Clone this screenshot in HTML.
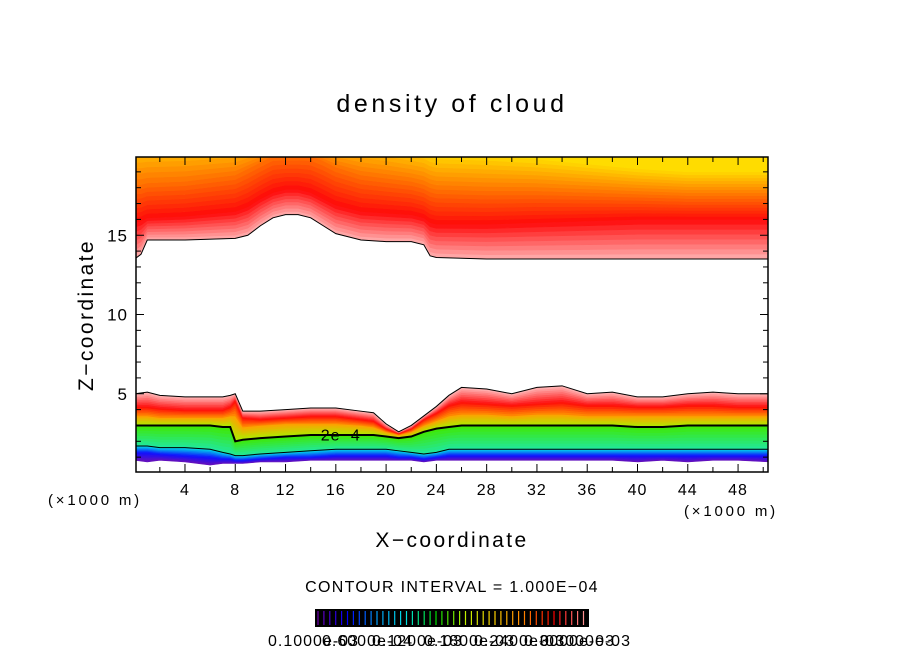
<!DOCTYPE html>
<html><head><meta charset="utf-8"><style>
body{margin:0;background:#fff;}
svg text{font-family:"Liberation Sans",sans-serif;fill:#000;}
</style></head><body>
<svg id="c" width="904" height="654" xmlns="http://www.w3.org/2000/svg">
<rect width="904" height="654" fill="#fff"/>
<text x="452" y="112" text-anchor="middle" font-size="25" letter-spacing="3.6">density of cloud</text>
<defs><clipPath id="pc"><rect x="136" y="157" width="632" height="315"/></clipPath></defs>
<g id="plot" clip-path="url(#pc)"></g>
<g id="axes"></g>
<text x="452" y="547" text-anchor="middle" font-size="21" letter-spacing="2.4">X−coordinate</text>
<text transform="translate(93,315) rotate(-90)" text-anchor="middle" font-size="21" letter-spacing="2.4">Z−coordinate</text>
<text x="48" y="505" font-size="15" letter-spacing="2.8">(×1000 m)</text>
<text x="684" y="516" font-size="15" letter-spacing="2.8">(×1000 m)</text>
<text x="452" y="592" text-anchor="middle" font-size="16" letter-spacing="1.3">CONTOUR INTERVAL = 1.000E−04</text>
<rect x="315" y="609" width="274" height="18" fill="#000"/>
<g id="cbar"></g>
<g font-size="16" letter-spacing="1">
<text x="268" y="646">0.1000e-03</text>
<text x="322" y="646">0.6000e-04</text>
<text x="372" y="646">0.1200e-03</text>
<text x="424" y="646">0.1800e-03</text>
<text x="474" y="646">0.2400e-03</text>
<text x="524" y="646">0.3000e-03</text>
<text x="540" y="646">0.3000e-03</text>
</g>
</svg>
<script>
const xs=[0,1,2,4,6,7,7.6,8,8.6,10,12,14,16,18,19,20,21,22,23,24,25,26,28,30,32,34,36,38,40,42,44,46,48,50.5];
const bEdge=[5.0,5.1,4.9,4.8,4.8,4.8,4.9,5.0,3.9,3.9,4.0,4.1,4.1,3.9,3.8,3.1,2.6,3.0,3.6,4.2,4.9,5.4,5.3,5.0,5.4,5.5,5.0,5.1,4.8,4.8,5.0,5.1,5.0,5.0];
const bRed=[4.2,4.2,4.1,4.0,4.0,4.0,4.2,4.6,3.5,3.4,3.5,3.6,3.6,3.4,3.3,2.8,2.5,2.8,3.4,3.8,4.3,4.5,4.4,4.3,4.4,4.5,4.3,4.3,4.2,4.2,4.3,4.3,4.2,4.2];
const bOrange=[3.6,3.6,3.5,3.5,3.5,3.5,3.6,3.6,2.9,3.0,3.1,3.1,3.1,3.0,2.9,2.6,2.4,2.6,3.0,3.3,3.6,3.7,3.7,3.6,3.7,3.7,3.6,3.6,3.6,3.6,3.6,3.6,3.6,3.6];
const bYellow=[3.0,3.0,3.0,3.0,3.0,2.9,2.9,2.0,2.1,2.2,2.3,2.4,2.4,2.4,2.4,2.3,2.2,2.3,2.6,2.8,2.9,3.0,3.0,3.0,3.0,3.0,3.0,3.0,2.9,2.9,3.0,3.0,3.0,3.0];
const bCyan=[1.7,1.7,1.6,1.6,1.5,1.3,1.2,1.1,1.1,1.2,1.3,1.4,1.5,1.5,1.5,1.5,1.4,1.3,1.2,1.3,1.5,1.5,1.5,1.5,1.5,1.5,1.5,1.5,1.5,1.5,1.5,1.5,1.5,1.5];
const bBlue=[1.3,1.3,1.2,1.1,1.0,0.9,0.9,0.8,0.8,0.9,1.0,1.0,1.1,1.1,1.1,1.1,1.0,1.0,0.9,1.0,1.1,1.1,1.1,1.1,1.1,1.1,1.1,1.1,1.1,1.1,1.1,1.1,1.1,1.1];
const bBase=[0.8,0.7,0.8,0.7,0.5,0.6,0.6,0.6,0.6,0.7,0.7,0.8,0.8,0.8,0.8,0.8,0.8,0.8,0.7,0.8,0.8,0.8,0.8,0.8,0.8,0.8,0.8,0.8,0.7,0.8,0.7,0.8,0.8,0.7];
const xsT=[0,0.5,1,4,8,9,10,11,12,13,14,15,16,18,20,22,23,23.5,24,28,32,36,40,44,48,50.5];
const tEdge=[13.5,13.8,14.7,14.7,14.8,15.0,15.6,16.1,16.3,16.3,16.1,15.6,15.1,14.7,14.6,14.6,14.4,13.7,13.6,13.5,13.5,13.5,13.5,13.5,13.5,13.5];
const tRed=[15.8,15.9,16.1,16.2,16.5,16.8,17.3,17.7,17.9,17.9,17.7,17.3,16.9,16.5,16.4,16.3,16.1,15.8,15.7,15.7,15.8,15.9,16.0,16.0,16.0,16.0];
const tOrange=[18.2,18.2,18.3,18.4,18.8,19.2,19.6,20,20,20,20,19.7,19.3,18.8,18.6,18.4,18.2,18.0,17.9,17.8,17.8,17.7,17.6,17.5,17.5,17.5];
const tYellow=[21,21,21,21,21,21,21,21,21,21,21,21,21,21,20.8,20.5,20.4,20.2,20.1,20.0,19.8,19.5,19.2,19.0,19.0,19.0];
const xTicks=[4,8,12,16,20,24,28,32,36,40,44,48];
const zTicks=[5,10,15];
const cbColors=['#7000b0','#0000ff','#00a0ff','#00e0e0','#00e000','#c0f000','#ffd000','#ff8000','#ff0000','#ff9090'];

const NS='http://www.w3.org/2000/svg';
const px=x=>134.7+x*12.57, pz=z=>473-z*15.85;
const plot=document.getElementById('plot'), axes=document.getElementById('axes');
function hex(c){return [1,3,5].map(i=>parseInt(c.substr(i,2),16));}
function mix(a,b,t){const A=hex(a),B=hex(b);return 'rgb('+A.map((v,i)=>Math.round(v+(B[i]-v)*t)).join(',')+')';}
function band(X,lo,hi,c1,c2,n){
  for(let k=0;k<n;k++){
    const t0=k/n,t1=(k+1)/n;
    const up=X.map((x,i)=>[px(x),pz(lo[i]+(hi[i]-lo[i])*t1)]);
    const dn=X.map((x,i)=>[px(x),pz(lo[i]+(hi[i]-lo[i])*t0)]).reverse();
    const p=document.createElementNS(NS,'polygon');
    p.setAttribute('points',up.concat(dn).map(q=>q.join(',')).join(' '));
    p.setAttribute('fill',mix(c1,c2,(t0+t1)/2));
    p.setAttribute('stroke',mix(c1,c2,(t0+t1)/2));p.setAttribute('stroke-width','0.6');
    
    
    plot.appendChild(p);
  }
}
function line(X,Z,w,name){
  const p=document.createElementNS(NS,'polyline');
  p.setAttribute('points',X.map((x,i)=>px(x)+','+pz(Z[i])).join(' '));
  p.setAttribute('fill','none');p.setAttribute('stroke','#000');p.setAttribute('stroke-width',w);
  
  
  plot.appendChild(p);
}
band(xs,bBase,bBlue,'#6a10b8','#1010ff',5);
band(xs,bBlue,bCyan,'#1010ff','#00d8e8',6);
band(xs,bCyan,bYellow,'#20e8a0','#40e800',8);
band(xs,bYellow,bOrange,'#a8f000','#ffa000',6);
band(xs,bOrange,bRed,'#ff9000','#ff0a0a',6);
band(xs,bRed,bEdge,'#ff1010','#ffb8b8',8);
line(xs,bEdge,1,'contour-line-outer');
line(xs,bYellow,2,'contour-line-2e-4');
line(xs,bCyan,1,'contour-line-lower');
band(xsT,tEdge,tRed,'#ffb0b0','#ff0a0a',8);
band(xsT,tRed,tOrange,'#ff0a0a','#ff7000',8);
band(xsT,tOrange,tYellow,'#ff7000','#ffd800',8);
const topFill=tYellow.map(()=>22);
band(xsT,tYellow,topFill,'#ffd800','#ffe000',1);
line(xsT,tEdge,1,'contour-line-top');
const lb=document.createElementNS(NS,'text');
lb.setAttribute('x',px(14.8));lb.setAttribute('y',pz(2.05));lb.setAttribute('font-size','16');
lb.setAttribute('letter-spacing','1');
lb.textContent='2e−4';


plot.appendChild(lb);
const fr=document.createElementNS(NS,'rect');
fr.setAttribute('x',136);fr.setAttribute('y',157);fr.setAttribute('width',632);fr.setAttribute('height',315);
fr.setAttribute('fill','none');fr.setAttribute('stroke','#000');fr.setAttribute('stroke-width','1.5');


axes.appendChild(fr);
function tick(x1,y1,x2,y2){const l=document.createElementNS(NS,'line');l.setAttribute('x1',x1);l.setAttribute('y1',y1);l.setAttribute('x2',x2);l.setAttribute('y2',y2);l.setAttribute('stroke','#000');


axes.appendChild(l);}
for(let x=2;x<=50;x+=2){const L=x%4===0?8:5;tick(px(x),472,px(x),472-L);tick(px(x),157,px(x),157+L);}
for(let z=1;z<=19;z++){const L=z%5===0?8:5;tick(136,pz(z),136+L,pz(z));tick(768,pz(z),768-L,pz(z));}
xTicks.forEach(v=>{const t=document.createElementNS(NS,'text');t.setAttribute('x',px(v));t.setAttribute('y',495);t.setAttribute('text-anchor','middle');t.setAttribute('font-size','16');t.setAttribute('letter-spacing','1');t.textContent=v;


axes.appendChild(t);});
zTicks.forEach(v=>{const t=document.createElementNS(NS,'text');t.setAttribute('x',128);t.setAttribute('y',pz(v)+6);t.setAttribute('text-anchor','end');t.setAttribute('font-size','17');t.setAttribute('letter-spacing','1');t.textContent=v;


axes.appendChild(t);});
const cb=document.getElementById('cbar');
const N=46;
for(let i=0;i<N;i++){const f=i/(N-1)*(cbColors.length-1);const k=Math.min(Math.floor(f),cbColors.length-2);
const l=document.createElementNS(NS,'line');const x=318+i*5.9;
l.setAttribute('x1',x);l.setAttribute('x2',x);l.setAttribute('y1',611);l.setAttribute('y2',625);
l.setAttribute('stroke',mix(cbColors[k],cbColors[k+1],f-k));l.setAttribute('stroke-width','1.2');


cb.appendChild(l);}
</script>
</body></html>
